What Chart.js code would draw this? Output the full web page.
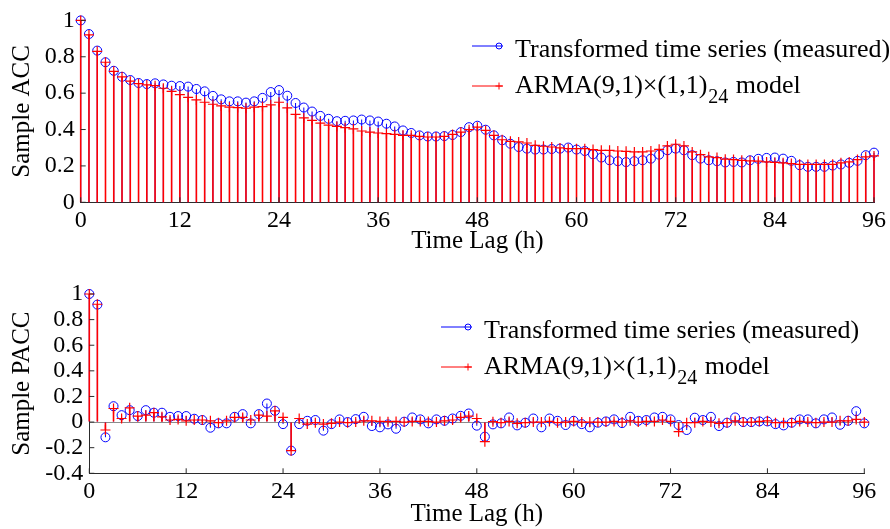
<!DOCTYPE html>
<html>
<head>
<meta charset="utf-8">
<script src="https://cdn.jsdelivr.net/npm/chart.js@4.4.1/dist/chart.umd.min.js"></script>
<style>
  html, body { margin: 0; padding: 0; background: #fff; }
  #wrap { position: relative; width: 890px; height: 529px; overflow: hidden; }
  .panel { position: absolute; left: 0; width: 890px; }
  canvas { display: block; }
</style>
</head>
<body>
<div id="wrap">
  <div class="panel" style="top:0;height:265px"><canvas id="acc" width="890" height="265"></canvas></div>
  <div class="panel" style="top:265px;height:264px"><canvas id="pacc" width="890" height="264"></canvas></div>
</div>
<script>
// Time lags in hours, 0 .. 96
const lags = Array.from({ length: 97 }, (_, i) => i);
const lagTicks = [0, 12, 24, 36, 48, 60, 72, 84, 96];
const accTicks = [0, 0.2, 0.4, 0.6, 0.8, 1];
const paccTicks = [-0.4, -0.2, 0, 0.2, 0.4, 0.6, 0.8, 1];

const seriesNames = ['Transformed time series (measured)', 'ARMA(9,1)×(1,1)_{24} model'];

// Sample autocorrelation, measured series
const accMeasured = [
  1.000, 0.925, 0.834, 0.770, 0.723, 0.690, 0.672, 0.656, 0.650, 0.654,
  0.648, 0.641, 0.639, 0.636, 0.623, 0.610, 0.585, 0.566, 0.555, 0.555,
  0.548, 0.555, 0.574, 0.606, 0.617, 0.586, 0.546, 0.521, 0.499, 0.475,
  0.459, 0.446, 0.448, 0.450, 0.455, 0.450, 0.444, 0.432, 0.417, 0.395,
  0.381, 0.368, 0.362, 0.362, 0.364, 0.370, 0.386, 0.413, 0.421, 0.399,
  0.368, 0.341, 0.322, 0.304, 0.295, 0.290, 0.290, 0.293, 0.295, 0.301,
  0.290, 0.282, 0.264, 0.246, 0.231, 0.226, 0.221, 0.226, 0.231, 0.240,
  0.262, 0.286, 0.295, 0.286, 0.259, 0.240, 0.231, 0.226, 0.219, 0.222,
  0.219, 0.231, 0.239, 0.244, 0.246, 0.240, 0.228, 0.204, 0.195, 0.195,
  0.195, 0.202, 0.208, 0.217, 0.228, 0.259, 0.273
];

// Sample autocorrelation, ARMA model
const accModel = [
  1.000, 0.920, 0.830, 0.770, 0.720, 0.690, 0.666, 0.652, 0.645, 0.641,
  0.627, 0.610, 0.592, 0.577, 0.563, 0.550, 0.539, 0.530, 0.523, 0.521,
  0.517, 0.523, 0.526, 0.536, 0.550, 0.519, 0.483, 0.464, 0.450, 0.435,
  0.424, 0.417, 0.410, 0.404, 0.392, 0.386, 0.381, 0.377, 0.373, 0.368,
  0.368, 0.362, 0.359, 0.359, 0.362, 0.373, 0.386, 0.399, 0.413, 0.395,
  0.368, 0.344, 0.335, 0.332, 0.326, 0.313, 0.308, 0.304, 0.299, 0.295,
  0.295, 0.295, 0.290, 0.286, 0.286, 0.282, 0.280, 0.277, 0.277, 0.282,
  0.291, 0.310, 0.319, 0.310, 0.277, 0.262, 0.250, 0.246, 0.237, 0.235,
  0.231, 0.228, 0.226, 0.222, 0.219, 0.217, 0.213, 0.209, 0.208, 0.208,
  0.208, 0.209, 0.217, 0.222, 0.235, 0.250, 0.255
];

// Sample partial autocorrelation, measured series
const paccMeasured = [
  1.000, 0.917, -0.119, 0.124, 0.054, 0.093, 0.047, 0.093, 0.073, 0.073,
  0.041, 0.047, 0.047, 0.026, 0.016, -0.044, -0.010, -0.010, 0.041, 0.062,
  -0.010, 0.062, 0.145, 0.088, -0.016, -0.223, -0.016, 0.010, 0.016, -0.067,
  -0.016, 0.021, 0.000, 0.023, 0.041, -0.031, -0.041, -0.018, -0.052, 0.003,
  0.036, 0.021, -0.010, 0.021, 0.010, 0.028, 0.049, 0.067, -0.028, -0.114,
  -0.018, -0.010, 0.036, -0.026, -0.005, 0.028, -0.041, 0.028, 0.010, -0.023,
  0.010, -0.016, -0.041, -0.005, 0.005, 0.021, -0.008, 0.041, 0.010, 0.016,
  0.036, 0.041, 0.021, -0.023, -0.062, 0.034, 0.016, 0.041, -0.031, -0.005,
  0.036, 0.000, 0.000, 0.005, 0.005, -0.016, -0.026, -0.005, 0.021, 0.021,
  -0.010, 0.021, 0.036, -0.021, 0.010, 0.085, -0.010
];

// Sample partial autocorrelation, ARMA model
const paccModel = [
  1.000, 0.920, -0.062, 0.106, 0.028, 0.111, 0.047, 0.054, 0.073, 0.041,
  0.016, 0.021, 0.010, 0.016, 0.016, 0.010, -0.005, 0.010, 0.036, 0.036,
  0.016, 0.054, 0.047, 0.088, 0.036, -0.223, 0.028, -0.016, -0.005, -0.016,
  -0.010, 0.000, -0.005, 0.000, 0.010, 0.010, 0.005, 0.003, 0.005, 0.000,
  0.005, 0.005, 0.005, 0.000, 0.010, 0.016, 0.036, 0.047, 0.028, -0.153,
  0.003, -0.005, 0.005, -0.010, -0.005, 0.000, 0.000, 0.005, -0.005, 0.000,
  0.005, 0.000, 0.000, 0.000, 0.000, 0.005, 0.000, 0.010, 0.000, 0.005,
  0.005, 0.016, 0.005, -0.075, -0.005, -0.005, 0.005, 0.000, -0.010, -0.005,
  0.010, 0.000, 0.000, 0.005, 0.010, -0.005, -0.005, -0.005, 0.005, 0.000,
  -0.005, 0.000, 0.000, 0.010, 0.010, 0.021, 0.000
];

const BLUE = '#0000ff';
const RED = '#ff0000';
const AXIS = '#2b2b2b';
const SERIF = "'Liberation Serif', 'Times New Roman', serif";

const pts = vals => lags.map((x, i) => ({ x, y: vals[i] }));
const fmt = v => String(Math.round(v * 10) / 10);

// Short tick marks pointing into the plot area
const inwardTicks = {
  id: 'inwardTicks',
  afterDatasetsDraw(chart) {
    const { ctx, chartArea: a, scales: { x, y } } = chart;
    ctx.save();
    ctx.strokeStyle = AXIS;
    ctx.lineWidth = 1;
    ctx.beginPath();
    x.ticks.forEach(t => {
      const px = x.getPixelForValue(t.value);
      ctx.moveTo(px, a.bottom); ctx.lineTo(px, a.bottom - 5);
    });
    y.ticks.forEach(t => {
      const py = y.getPixelForValue(t.value);
      ctx.moveTo(a.left, py); ctx.lineTo(a.left + 5, py);
    });
    ctx.stroke();
    ctx.restore();
  }
};

// Legend with line + marker samples; "_{..}" renders as subscript
const stemLegend = {
  id: 'stemLegend',
  afterDraw(chart, args, o) {
    const { ctx } = chart;
    ctx.save();
    o.rows.forEach(row => {
      const ds = chart.data.datasets[row.dataset];
      const color = ds.borderColor;
      ctx.strokeStyle = color;
      ctx.lineWidth = 1;
      ctx.beginPath();
      ctx.moveTo(o.lineX, row.y); ctx.lineTo(o.lineX + o.lineLen, row.y);
      ctx.stroke();
      const mx = o.markerX;
      ctx.beginPath();
      if (ds.pointStyle === 'circle') {
        ctx.arc(mx, row.y, 3, 0, Math.PI * 2);
      } else {
        ctx.moveTo(mx - 3.5, row.y); ctx.lineTo(mx + 3.5, row.y);
        ctx.moveTo(mx, row.y - 3.5); ctx.lineTo(mx, row.y + 3.5);
      }
      ctx.stroke();
      ctx.fillStyle = '#000';
      ctx.textBaseline = 'alphabetic';
      ctx.textAlign = 'left';
      let xx = o.textX;
      const parts = ds.label.split(/(_\{[^}]*\})/);
      parts.forEach(p => {
        if (!p) return;
        if (p.startsWith('_{')) {
          const s = p.slice(2, -1);
          ctx.font = `${o.subSize}px ${SERIF}`;
          ctx.fillText(s, xx + 1, row.base + o.subDrop);
          xx += ctx.measureText(s).width + 2;
        } else {
          ctx.font = `${o.fontSize}px ${SERIF}`;
          ctx.fillText(p, xx, row.base);
          xx += ctx.measureText(p).width;
        }
      });
    });
    ctx.restore();
  }
};

function stemChart(canvasId, cfg) {
  const tickFont = { family: SERIF, size: 24 };
  const titleFont = { family: SERIF, size: 25 };
  return new Chart(document.getElementById(canvasId), {
    type: 'scatter',
    data: {
      datasets: [
        { type: 'bar', label: 'stem-m', data: pts(cfg.measured), backgroundColor: BLUE,
          barThickness: 1, inflateAmount: 0, grouped: false, order: 4, borderWidth: 0, clip: false },
        { type: 'scatter', label: seriesNames[0], data: pts(cfg.measured), pointStyle: 'circle',
          pointRadius: 4.5, borderColor: BLUE, backgroundColor: 'rgba(0,0,0,0)', pointBorderWidth: 1, order: 3, clip: false },
        { type: 'bar', label: 'stem-a', data: pts(cfg.model), backgroundColor: RED,
          barThickness: 1.6, inflateAmount: 0, grouped: false, order: 2, borderWidth: 0, clip: false },
        { type: 'scatter', label: seriesNames[1], data: pts(cfg.model), pointStyle: 'cross',
          pointRadius: 5, borderColor: RED, backgroundColor: RED, pointBorderWidth: 1.2, order: 1, clip: false }
      ]
    },
    options: {
      responsive: false,
      devicePixelRatio: 1,
      animation: false,
      events: [],
      layout: { padding: cfg.padding },
      plugins: {
        legend: { display: false },
        tooltip: { enabled: false },
        stemLegend: cfg.legend
      },
      scales: {
        x: {
          type: 'linear', min: 0, max: 96, offset: false,
          afterBuildTicks: s => { s.ticks = lagTicks.map(v => ({ value: v })); },
          afterFit: s => { s.height = cfg.xHeight; },
          ticks: { font: tickFont, color: '#000', padding: 4, maxRotation: 0, autoSkip: false, callback: v => String(v) },
          grid: { display: false, drawTicks: false },
          border: { display: true, color: AXIS, width: 1 },
          title: { display: true, text: 'Time Lag (h)', font: titleFont, color: '#000', padding: { top: 0, bottom: cfg.xTitlePad } }
        },
        y: {
          type: 'linear', min: cfg.yTicks[0], max: cfg.yTicks[cfg.yTicks.length - 1],
          afterBuildTicks: s => { s.ticks = cfg.yTicks.map(v => ({ value: v })); },
          afterFit: s => { s.width = cfg.yWidth; },
          ticks: { font: tickFont, color: '#000', padding: 6, autoSkip: false, callback: v => fmt(v) },
          grid: {
            display: cfg.zeroLine, drawTicks: false,
            color: c => (c.tick && c.tick.value === 0) ? '#8c8c8c' : 'rgba(0,0,0,0)'
          },
          border: { display: true, color: AXIS, width: 1 },
          title: { display: true, text: cfg.yTitle, font: titleFont, color: '#000', padding: { top: 7, bottom: 0 } }
        }
      }
    },
    plugins: [inwardTicks, stemLegend]
  });
}

stemChart('acc', {
  measured: accMeasured, model: accModel, yTicks: accTicks, yTitle: 'Sample ACC',
  padding: { left: 0, right: 14.4, top: 19, bottom: 0 },
  yWidth: 80.7, xHeight: 62.7, xTitlePad: 9, zeroLine: false,
  legend: {
    lineX: 472, lineLen: 31, markerX: 499, textX: 515, fontSize: 26, subSize: 20, subDrop: 10,
    rows: [ { dataset: 1, y: 46, base: 56.5 }, { dataset: 3, y: 86, base: 93 } ]
  }
});

stemChart('pacc', {
  measured: paccMeasured, model: paccModel, yTicks: paccTicks, yTitle: 'Sample PACC',
  padding: { left: 0, right: 25.7, top: 29, bottom: 0 },
  yWidth: 89.3, xHeight: 55.7, xTitlePad: 0, zeroLine: true,
  legend: {
    lineX: 441, lineLen: 31, markerX: 468, textX: 484, fontSize: 26, subSize: 20, subDrop: 10,
    rows: [ { dataset: 1, y: 62, base: 72.5 }, { dataset: 3, y: 102, base: 109 } ]
  }
});
</script>
</body>
</html>
